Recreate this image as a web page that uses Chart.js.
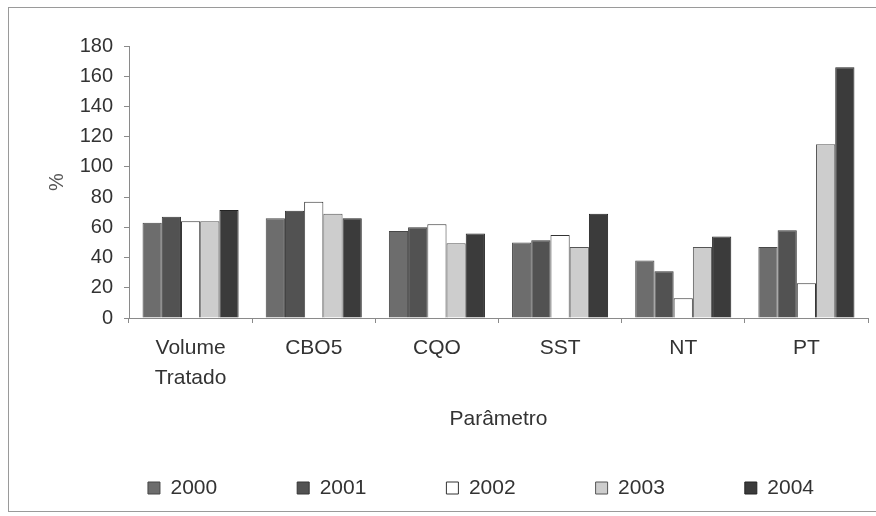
<!DOCTYPE html>
<html>
<head>
<meta charset="utf-8">
<script src="https://cdn.jsdelivr.net/npm/chart.js@4"></script>
<style>
  html, body { margin: 0; padding: 0; background: #ffffff; }
  #wrap { width: 876px; height: 516px; }
</style>
</head>
<body>
<div id="wrap"><canvas id="c" width="876" height="516"></canvas></div>
<script>
const categories = [['Volume', 'Tratado'], 'CBO5', 'CQO', 'SST', 'NT', 'PT'];
const seriesNames = ['2000', '2001', '2002', '2003', '2004'];
const values2000 = [63, 66, 57.5, 50, 38, 47];
const values2001 = [67, 71, 60, 51.5, 31, 58];
const values2002 = [64, 77, 62, 55, 13, 23];
const values2003 = [64, 69, 49.5, 47, 47, 115];
const values2004 = [71.5, 66, 56, 69, 54, 166];
const yTicks = [0, 20, 40, 60, 80, 100, 120, 140, 160, 180];

const fills = ['#6d6d6d', '#525252', '#ffffff', '#cdcdcd', '#3b3b3b'];
const borders = ['#474747', '#363636', '#333333', '#555555', '#242424'];
const allValues = [values2000, values2001, values2002, values2003, values2004];

const FONT = '"Liberation Sans", Arial, sans-serif';

const frame = {
  id: 'frame',
  beforeDraw(chart) {
    const ctx = chart.ctx;
    ctx.save();
    ctx.fillStyle = '#ffffff';
    ctx.fillRect(0, 0, chart.width, chart.height);
    ctx.strokeStyle = '#9a9a9a';
    ctx.lineWidth = 1;
    ctx.strokeRect(8.5, 7.5, chart.width - 8, chart.height - 12);
    ctx.restore();
  }
};
const shiftLegend = {
  id: 'shiftLegend',
  afterLayout(chart) {
    if (chart.legend) {
      chart.legend.left += 47;
      chart.legend.right += 47;
    }
  }
};

new Chart(document.getElementById('c'), {
  type: 'bar',
  data: {
    labels: categories,
    datasets: seriesNames.map((n, i) => ({
      label: n,
      data: allValues[i],
      backgroundColor: fills[i],
      borderColor: borders[i],
      borderWidth: 1,
      categoryPercentage: 0.78,
      barPercentage: 1.0
    }))
  },
  options: {
    responsive: false,
    animation: false,
    devicePixelRatio: 1,
    layout: { padding: { top: 46, right: 8, bottom: 7.5, left: 0 } },
    plugins: {
      tooltip: { enabled: false },
      legend: {
        position: 'bottom',
        align: 'center',
        labels: {
          boxWidth: 12,
          boxHeight: 12,
          padding: 80,
          color: '#333333',
          font: { family: FONT, size: 21 }
        }
      }
    },
    scales: {
      x: {
        afterFit(s) { s.height = 79.5; },
        grid: { display: true, drawOnChartArea: false, drawTicks: true, tickLength: 5, color: '#8a8a8a', offset: true },
        border: { display: true, color: '#8a8a8a', width: 1 },
        ticks: {
          color: '#333333',
          padding: 10,
          maxRotation: 0,
          autoSkip: false,
          font: { family: FONT, size: 21, lineHeight: 1.43 }
        },
        title: {
          display: true,
          text: 'Parâmetro',
          color: '#333333',
          font: { family: FONT, size: 21, lineHeight: 1.2 },
          padding: { top: 0, bottom: -34 }
        }
      },
      y: {
        min: 0,
        max: 180,
        afterFit(s) { s.width = 129; },
        afterBuildTicks(s) { s.ticks = yTicks.map(v => ({ value: v })); },
        grid: { display: true, drawOnChartArea: false, drawTicks: true, tickLength: 5, color: '#8a8a8a' },
        border: { display: true, color: '#8a8a8a', width: 1 },
        ticks: {
          color: '#333333',
          padding: 11,
          font: { family: FONT, size: 20 }
        },
        title: {
          display: true,
          text: '%',
          color: '#555555',
          font: { family: FONT, size: 20, lineHeight: 1.2 },
          padding: { top: 45, bottom: 0 }
        }
      }
    }
  },
  plugins: [frame, shiftLegend]
});
</script>
</body>
</html>
